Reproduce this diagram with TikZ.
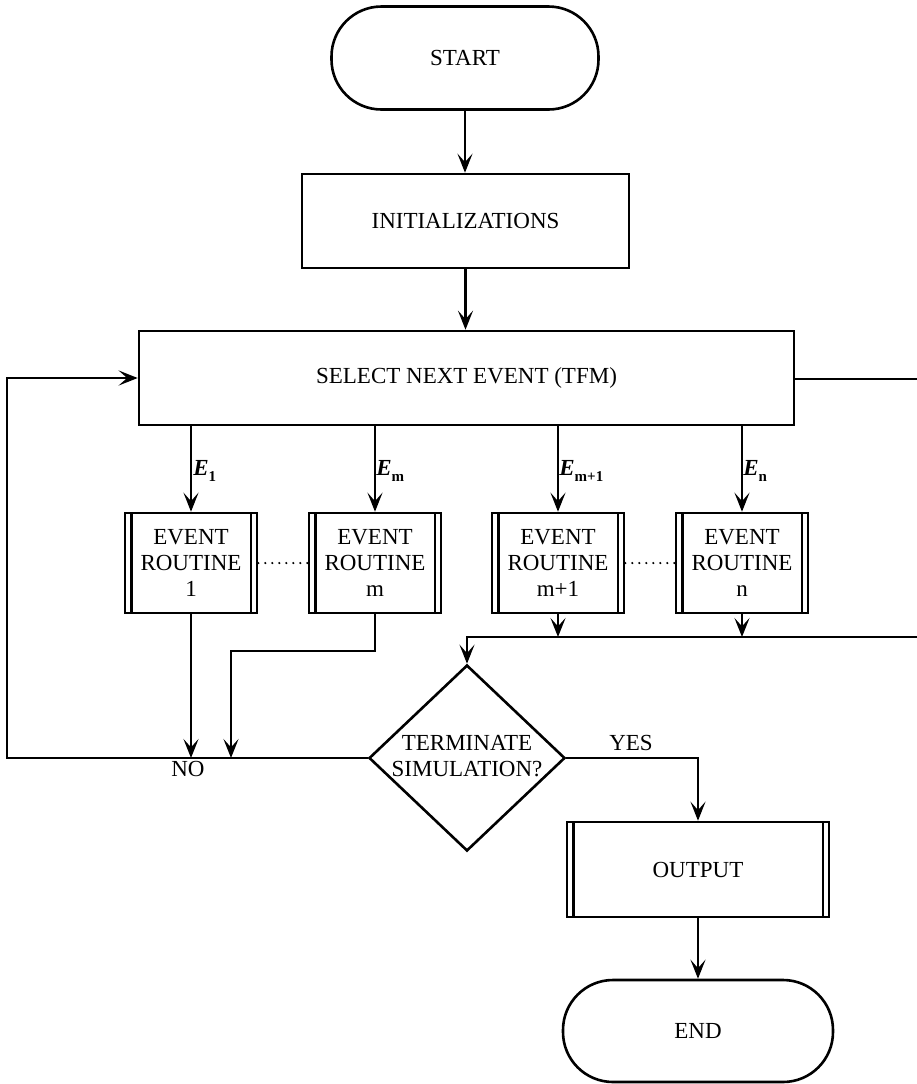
\documentclass[tikz,border=0pt]{standalone}
\usepackage{fontspec}
\setmainfont{Liberation Serif}
\usetikzlibrary{shapes.geometric,arrows.meta}

% event label: bold italic E with a lowered bold index
\newcommand\evlab[1]{{\bfseries\itshape E}\raisebox{-0.6ex}{\fontsize{7.5}{7.5}\selectfont\bfseries #1}}

\tikzset{
  txt/.style={font=\fontsize{11.5}{13}\selectfont},
  conn/.style={line width=1.3pt},
  flow/.style={conn,-{Stealth[length=9.5pt,width=7.5pt,inset=4.2pt]}},
  terminal/.style={txt,draw,line width=1.3pt,rounded corners=25pt,inner sep=0pt},
  procbox/.style={txt,draw,line width=1.3pt,inner sep=0pt,align=center},
  predef/.style={procbox,
    path picture={\draw[line width=1.1pt]
      ([xshift=3.2pt]path picture bounding box.north west) -- ([xshift=3.2pt]path picture bounding box.south west)
      ([xshift=-3.2pt]path picture bounding box.north east) -- ([xshift=-3.2pt]path picture bounding box.south east);}},
  evbox/.style={predef,minimum width=66pt,minimum height=50pt},
  decision/.style={diamond,draw,line width=1.3pt,inner sep=0pt,minimum width=98pt,minimum height=93pt},
  elabel/.style={anchor=base west,inner sep=0pt,font=\fontsize{11.5}{13}\selectfont},
  dots/.style={line width=1.2pt,line cap=round,dash pattern=on 0pt off 3.5pt},
}

\begin{document}
\begin{tikzpicture}[x=0.5pt,y=-0.5pt]
\useasboundingbox (0,0) rectangle (917,1084);
\clip (0,0) rectangle (917,1084);

% main column
\node[terminal,minimum width=133.5pt,minimum height=51.5pt] (start) at (465,58) {START};
\node[procbox,minimum width=163.5pt,minimum height=47pt] (init) at (465.5,221) {INITIALIZATIONS};
\node[procbox,minimum width=327.5pt,minimum height=47pt] (select) at (466.5,378) {SELECT NEXT EVENT (TFM)};

% event routines
\node[evbox] (ev1)  at (191,563) {EVENT\\ROUTINE\\1};
\node[evbox] (evm)  at (375,563) {EVENT\\ROUTINE\\m};
\node[evbox] (evm1) at (558,563) {EVENT\\ROUTINE\\m+1};
\node[evbox] (evn)  at (742,563) {EVENT\\ROUTINE\\n};

% termination test and exit
\node[decision] (dec) at (467,758) {};
\node[txt,align=center] (dectext) at (467,756) {TERMINATE\\SIMULATION?};
\node[predef,minimum width=131pt,minimum height=47.5pt] (out) at (698,869.5) {OUTPUT};
\node[terminal,minimum width=135pt,minimum height=51pt] (end) at (698,1031) {END};

% branch labels
\node[elabel] (l1)  at (193,475) {\evlab{1}};
\node[elabel] (lm)  at (376,475) {\evlab{m}};
\node[elabel] (lm1) at (559,475) {\evlab{m+1}};
\node[elabel] (ln)  at (743,475) {\evlab{n}};
\node[txt] (no)  at (188,769) {NO};
\node[txt] (yes) at (631,743) {YES};

% routing points
\coordinate (lb) at (7,758);
\coordinate (lt) at (7,379);
\coordinate (rt) at (935,379);
\coordinate (rb) at (935,637);
\coordinate (mj) at (231,651);
\coordinate (yj) at (698,758);

% connectors
\draw[flow] (start.south) -- (start.south |- init.north);
\draw[flow] (init.south) -- (init.south |- select.north);
\foreach \e in {ev1,evm,evm1,evn}
  \draw[flow] (select.south -| \e) -- (\e.north);
\draw[dots] (ev1.east) -- (evm.west);
\draw[dots] (evm1.east) -- (evn.west);

% back to the event selection
\draw[flow] (dec.west) -- (lb) -- (lt) -- (lt |- select.west) -- (select.west);
\draw[flow] (ev1.south) -- (ev1.south |- lb);
\draw[flow] (evm.south) -- (evm.south |- mj) -- (mj) -- (mj |- lb);

% events with no return branch feed the test directly
\draw[flow] (evm1.south) -- (evm1.south |- rb);
\draw[flow] (evn.south) -- (evn.south |- rb);
\draw[flow] (select.east |- rt) -- (rt) -- (rb) -- (dec.north |- rb) -- (dec.north);

% exit
\draw[flow] (dec.east) -- (yj) -- (out.north);
\draw[flow] (out) -- (end);
\end{tikzpicture}
\end{document}
